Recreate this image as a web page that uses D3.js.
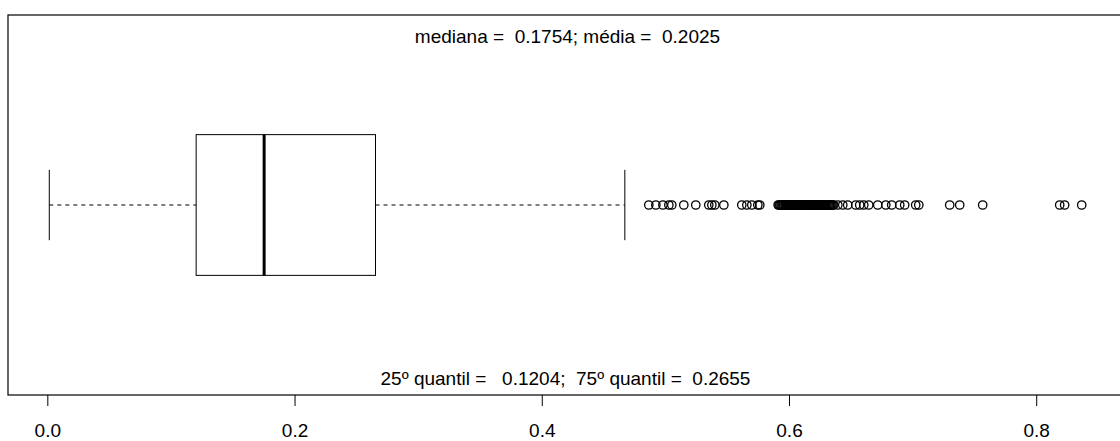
<!DOCTYPE html>
<html>
<head>
<meta charset="utf-8">
<script src="https://cdn.jsdelivr.net/npm/d3@7"></script>
<style>
  html, body { margin: 0; padding: 0; background: #fff; }
  svg { display: block; }
  text { font-family: "Liberation Sans", Arial, sans-serif; fill: #000; }
</style>
</head>
<body>
<svg id="chart" width="1120" height="441"></svg>
<script>
// Five-number summary of the distribution (whisker ends, quartiles, median)
const whiskerLow = 0.0016;
const q1 = 0.1204;
const median = 0.1754;
const q3 = 0.2655;
const whiskerHigh = 0.4672;
const mean = 0.2025;

// Observations beyond the upper whisker
const outliers = [
  0.4866, 0.4923, 0.4980, 0.5028, 0.5052, 0.5149, 0.5246, 0.5351, 0.5376, 0.5400,
  0.5473, 0.5618, 0.5659, 0.5699, 0.5748, 0.5764,
  0.5912, 0.5920, 0.5927, 0.5936, 0.5944, 0.5951, 0.5958, 0.5967, 0.5975, 0.5983,
  0.5990, 0.5997, 0.6004, 0.6013, 0.6021, 0.6028, 0.6036, 0.6043, 0.6050, 0.6059,
  0.6068, 0.6075, 0.6083, 0.6090, 0.6097, 0.6105, 0.6112, 0.6121, 0.6130, 0.6137,
  0.6144, 0.6152, 0.6160, 0.6168, 0.6175, 0.6182, 0.6190, 0.6198, 0.6206, 0.6214,
  0.6221, 0.6230, 0.6238, 0.6245, 0.6252, 0.6260, 0.6268, 0.6276, 0.6284, 0.6291,
  0.6299, 0.6308, 0.6316, 0.6323, 0.6331, 0.6339, 0.6347, 0.6355, 0.6362,
  0.6395, 0.6435, 0.6475, 0.6540, 0.6572, 0.6605, 0.6645, 0.6718, 0.6783, 0.6831,
  0.6896, 0.6936, 0.7025, 0.7050, 0.7300, 0.7381, 0.7567, 0.8190, 0.8230, 0.8368
];

const tickValues = [0.0, 0.2, 0.4, 0.6, 0.8];

const svg = d3.select("#chart");
const plot = { left: 8, right: 1123, top: 15, bottom: 395 };

// Horizontal value axis extends the data range by 4% on each side
const lo = whiskerLow, hi = d3.max(outliers);
const pad = (hi - lo) * 0.04;
const x = d3.scaleLinear().domain([lo - pad, hi + pad]).range([plot.left, plot.right]);
// Vertical position: single box centred at 1
const y = d3.scaleLinear().domain([0.46, 1.54]).range([plot.bottom, plot.top]);

const g = svg.append("g");

// Dashed whiskers
g.selectAll("line.whisker")
  .data([[whiskerLow, q1], [q3, whiskerHigh]])
  .join("line")
  .attr("class", "whisker")
  .attr("x1", d => x(d[0])).attr("x2", d => x(d[1]))
  .attr("y1", y(1)).attr("y2", y(1))
  .attr("stroke", "#000").attr("stroke-width", 1)
  .attr("stroke-dasharray", "4,4");

// Whisker staples
g.selectAll("line.staple")
  .data([whiskerLow, whiskerHigh])
  .join("line")
  .attr("class", "staple")
  .attr("x1", d => x(d)).attr("x2", d => x(d))
  .attr("y1", y(1.1)).attr("y2", y(0.9))
  .attr("stroke", "#000").attr("stroke-width", 1);

// Interquartile box
g.append("rect")
  .attr("x", x(q1)).attr("width", x(q3) - x(q1))
  .attr("y", y(1.2)).attr("height", y(0.8) - y(1.2))
  .attr("fill", "none").attr("stroke", "#000").attr("stroke-width", 1);

// Median line
g.append("line")
  .attr("x1", x(median)).attr("x2", x(median))
  .attr("y1", y(1.2)).attr("y2", y(0.8))
  .attr("stroke", "#000").attr("stroke-width", 3);

// Outlier points
g.selectAll("circle.out")
  .data(outliers)
  .join("circle")
  .attr("class", "out")
  .attr("cx", d => x(d)).attr("cy", y(1))
  .attr("r", 4.2)
  .attr("fill", "none").attr("stroke", "#000").attr("stroke-width", 1.3);

// Plot frame
svg.append("rect")
  .attr("x", plot.left).attr("y", plot.top)
  .attr("width", plot.right - plot.left).attr("height", plot.bottom - plot.top)
  .attr("fill", "none").attr("stroke", "#000").attr("stroke-width", 1.2);

// Bottom axis
const axis = d3.axisBottom(x).tickValues(tickValues).tickFormat(d3.format(".1f"))
  .tickSize(11).tickPadding(18);
const ax = svg.append("g").attr("transform", `translate(0,${plot.bottom})`).call(axis);
ax.select(".domain").remove();
ax.selectAll(".tick line").attr("stroke", "#000");
ax.selectAll(".tick text").style("font-size", "19px").attr("fill", "#000");

// Summary captions
const cx = (plot.left + plot.right) / 2;
const f4 = d3.format(".4f");
svg.append("text")
  .attr("x", cx + 2).attr("y", 43)
  .attr("text-anchor", "middle").style("font-size", "19px")
  .style("white-space", "pre").attr("xml:space", "preserve")
  .text(`mediana =  ${f4(median)}; média =  ${f4(mean)}`);
svg.append("text")
  .attr("x", cx).attr("y", 385)
  .attr("text-anchor", "middle").style("font-size", "19px")
  .style("white-space", "pre").attr("xml:space", "preserve")
  .text(`25º quantil =   ${f4(q1)};  75º quantil =  ${f4(q3)}`);
</script>
</body>
</html>
